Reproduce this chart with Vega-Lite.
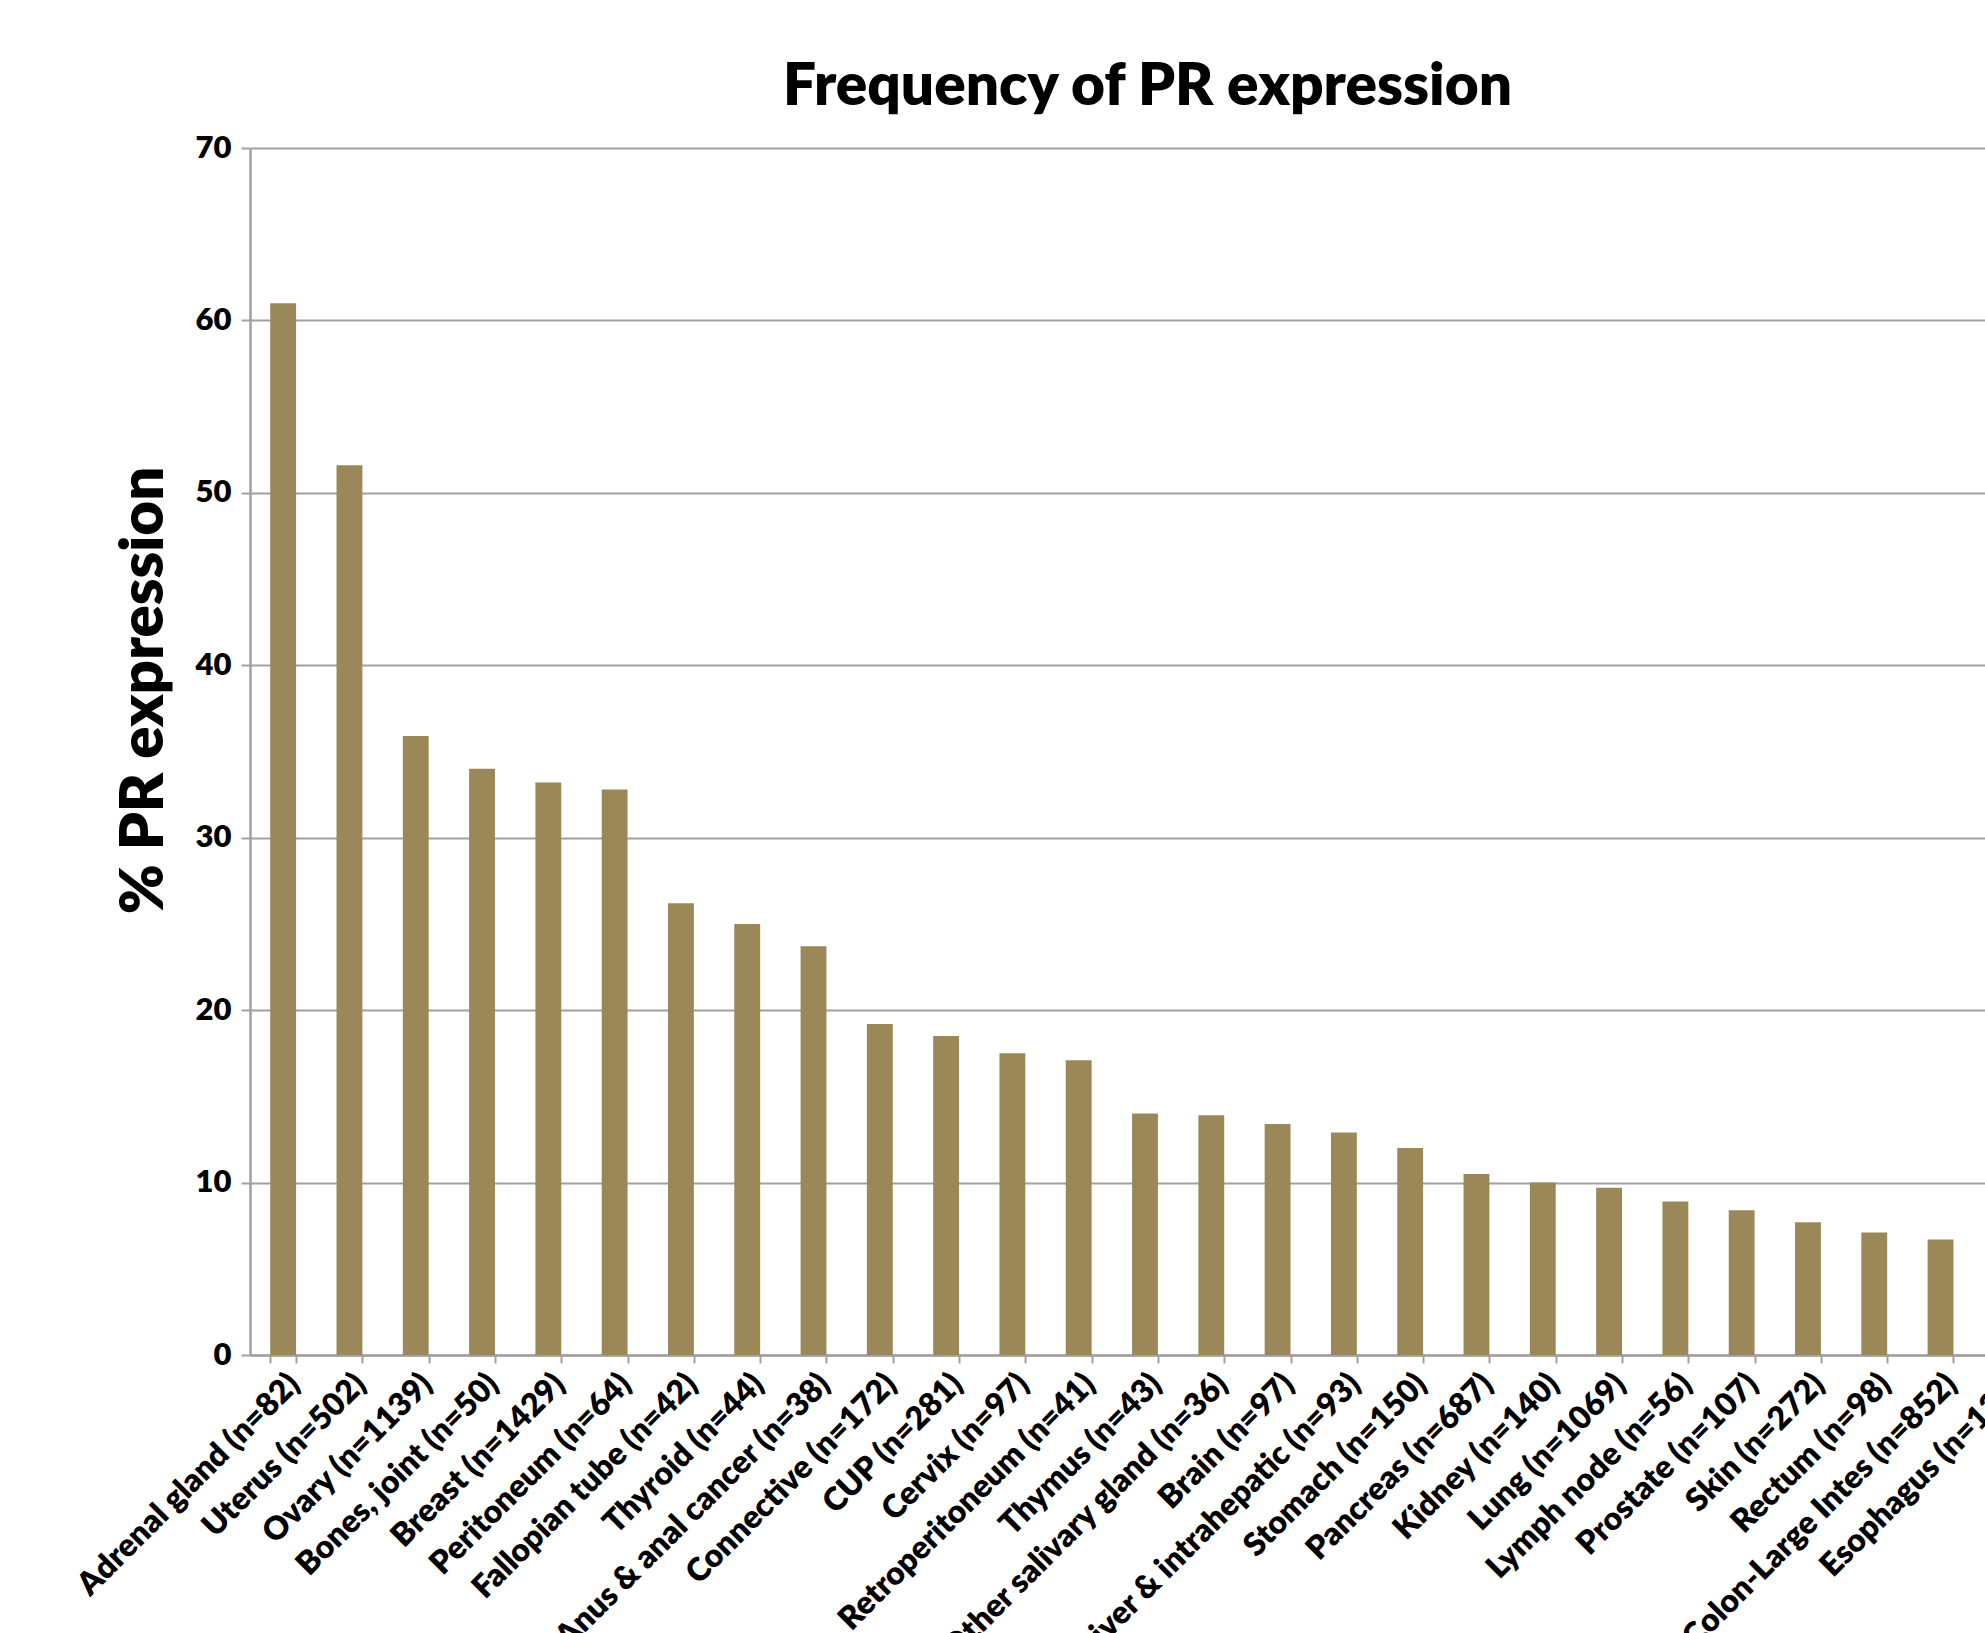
{
  "$schema": "https://vega.github.io/schema/vega-lite/v6.json",
  "autosize": {"type": "none"},
  "padding": {"left": 250, "top": 148, "right": 0, "bottom": 278},
  "width": 1735,
  "height": 1207,
  "background": "white",
  "title": {
    "text": "Frequency of PR expression",
    "font": "Lato",
    "fontSize": 58.5,
    "fontWeight": 800,
    "color": "black",
    "anchor": "middle",
    "frame": "group",
    "baseline": "alphabetic",
    "offset": 30,
    "dx": 30,
    "dy": 61
  },
  "data": {
    "values": [
      {"site": "Adrenal gland (n=82)", "pct": 61.0},
      {"site": "Uterus (n=502)", "pct": 51.6},
      {"site": "Ovary (n=1139)", "pct": 35.9},
      {"site": "Bones, joint (n=50)", "pct": 34.0},
      {"site": "Breast (n=1429)", "pct": 33.2},
      {"site": "Peritoneum (n=64)", "pct": 32.8},
      {"site": "Fallopian tube (n=42)", "pct": 26.2},
      {"site": "Thyroid (n=44)", "pct": 25.0},
      {"site": "Anus & anal cancer (n=38)", "pct": 23.7},
      {"site": "Connective (n=172)", "pct": 19.2},
      {"site": "CUP (n=281)", "pct": 18.5},
      {"site": "Cervix (n=97)", "pct": 17.5},
      {"site": "Retroperitoneum (n=41)", "pct": 17.1},
      {"site": "Thymus (n=43)", "pct": 14.0},
      {"site": "Other salivary gland (n=36)", "pct": 13.9},
      {"site": "Brain (n=97)", "pct": 13.4},
      {"site": "Liver & intrahepatic (n=93)", "pct": 12.9},
      {"site": "Stomach (n=150)", "pct": 12.0},
      {"site": "Pancreas (n=687)", "pct": 10.5},
      {"site": "Kidney (n=140)", "pct": 10.0},
      {"site": "Lung (n=1069)", "pct": 9.7},
      {"site": "Lymph node (n=56)", "pct": 8.9},
      {"site": "Prostate (n=107)", "pct": 8.4},
      {"site": "Skin (n=272)", "pct": 7.7},
      {"site": "Rectum (n=98)", "pct": 7.1},
      {"site": "Colon-Large Intes (n=852)", "pct": 6.7},
      {"site": "Esophagus (n=123)", "pct": 6.5}
    ]
  },
  "mark": {"type": "bar", "color": "#9A8859"},
  "encoding": {
    "x": {
      "field": "site",
      "type": "nominal",
      "sort": null,
      "scale": {"range": [0, 1790], "paddingInner": 0.61, "paddingOuter": 0.305},
      "axis": {
        "title": null,
        "labelAngle": -45,
        "labelFont": "Lato",
        "labelFontSize": 32,
        "labelFontWeight": 800,
        "labelColor": "black",
        "labelLimit": 0,
        "labelPadding": 5,
        "tickBand": "extent",
        "tickSize": 8,
        "tickWidth": 2,
        "tickColor": "#A0A0A0",
        "domainColor": "#A0A0A0",
        "domainWidth": 2.5,
        "grid": false
      }
    },
    "y": {
      "field": "pct",
      "type": "quantitative",
      "scale": {"domain": [0, 70], "nice": false},
      "axis": {
        "title": "% PR expression",
        "titleFont": "Lato",
        "titleFontSize": 60,
        "titleFontWeight": 800,
        "titleColor": "black",
        "titleAngle": -90,
        "titleAlign": "center",
        "titleBaseline": "alphabetic",
        "titleX": -88,
        "titleY": 542,
        "values": [0, 10, 20, 30, 40, 50, 60, 70],
        "labelFont": "Lato",
        "labelFontSize": 31,
        "labelFontWeight": 800,
        "labelColor": "black",
        "labelPadding": 10,
        "tickSize": 9,
        "tickWidth": 2,
        "tickColor": "#A0A0A0",
        "domainColor": "#A0A0A0",
        "domainWidth": 2.5,
        "grid": true,
        "gridColor": "#A0A0A0",
        "gridWidth": 2
      }
    }
  },
  "config": {"view": {"stroke": null}}
}
